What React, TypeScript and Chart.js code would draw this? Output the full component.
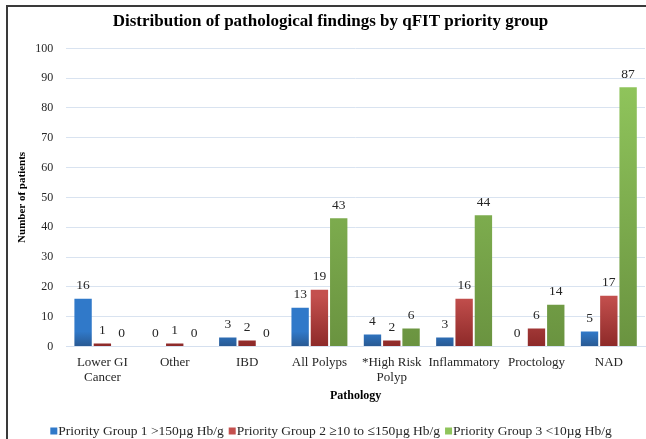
import React, { useEffect, useRef } from "react";
import { Chart, registerables } from "chart.js";

Chart.register(...registerables);

const categories: (string | string[])[] = [
  ["Lower GI", "Cancer"],
  "Other",
  "IBD",
  "All Polyps",
  ["*High Risk", "Polyp"],
  "Inflammatory",
  "Proctology",
  "NAD",
];
const group1 = [16, 0, 3, 13, 4, 3, 0, 5];
const group2 = [1, 1, 2, 19, 2, 16, 6, 17];
const group3 = [0, 0, 0, 43, 6, 44, 14, 87];
const seriesNames = [
  "Priority Group 1 >150µg Hb/g",
  "Priority Group 2 ≥10 to ≤150µg Hb/g",
  "Priority Group 3 <10µg Hb/g",
];
const yTicks = [0, 10, 20, 30, 40, 50, 60, 70, 80, 90, 100];

const topColors = ["#3079c9", "#c4504e", "#8fc45b"];
const bottomColors = ["#295a94", "#8e2a29", "#6a9340"];
const FONT = "'Liberation Serif', 'Times New Roman', serif";

const gradientPlugin = {
  id: "barGradient",
  beforeDatasetsDraw(chart: any) {
    const ctx = chart.ctx;
    chart.data.datasets.forEach((ds: any, i: number) => {
      const meta = chart.getDatasetMeta(i);
      meta.data.forEach((el: any) => {
        const top = Math.min(el.y, el.base);
        const bottom = Math.max(el.y, el.base);
        const g = ctx.createLinearGradient(0, top, 0, bottom + 0.01);
        g.addColorStop(0, topColors[i]);
        g.addColorStop(1, bottomColors[i]);
        if (el.options) el.options.backgroundColor = g;
      });
    });
  },
};

const labelsPlugin = {
  id: "valueLabels",
  afterDatasetsDraw(chart: any) {
    const ctx = chart.ctx;
    ctx.save();
    ctx.font = `13.5px ${FONT}`;
    ctx.fillStyle = "#262626";
    ctx.textAlign = "center";
    ctx.textBaseline = "middle";
    chart.data.datasets.forEach((ds: any, i: number) => {
      const meta = chart.getDatasetMeta(i);
      meta.data.forEach((el: any, j: number) => {
        ctx.fillText(String(ds.data[j]), el.x, el.y - 13);
      });
    });
    ctx.restore();
  },
};

const framePlugin = {
  id: "frame",
  beforeDraw(chart: any) {
    const ctx = chart.ctx;
    ctx.save();
    ctx.fillStyle = "#ffffff";
    ctx.fillRect(0, 0, chart.width, chart.height);
    ctx.strokeStyle = "#3a3a3a";
    ctx.lineWidth = 2;
    ctx.beginPath();
    ctx.moveTo(7, chart.height);
    ctx.lineTo(7, 6);
    ctx.lineTo(chart.width, 6);
    ctx.stroke();
    ctx.restore();
  },
};

const legendPlugin = {
  id: "customLegend",
  afterDraw(chart: any) {
    const ctx = chart.ctx;
    ctx.save();
    ctx.font = `13.5px ${FONT}`;
    ctx.textBaseline = "middle";
    const box = 7;
    const gapText = 1;
    const gapItem = 5;
    const widths = seriesNames.map((n) => box + gapText + ctx.measureText(n).width);
    const total = widths.reduce((a, b) => a + b, 0) + gapItem * (widths.length - 1);
    let x = 331 - total / 2;
    const y = 431;
    seriesNames.forEach((n, i) => {
      ctx.fillStyle = topColors[i];
      ctx.fillRect(x, y - box / 2, box, box);
      ctx.fillStyle = "#262626";
      ctx.fillText(n, x + box + gapText, y);
      x += widths[i] + gapItem;
    });
    ctx.restore();
  },
};

export default function App() {
  const ref = useRef<HTMLCanvasElement | null>(null);
  useEffect(() => {
    if (!ref.current) return;
    const chart = new Chart(ref.current, {
      type: "bar",
      data: {
        labels: categories,
        datasets: [
          { label: seriesNames[0], data: group1, backgroundColor: topColors[0] },
          { label: seriesNames[1], data: group2, backgroundColor: topColors[1] },
          { label: seriesNames[2], data: group3, backgroundColor: topColors[2] },
        ],
      },
      options: {
        responsive: false,
        animation: false,
        layout: { padding: { top: 9, left: 16, right: 1, bottom: 36 } },
        plugins: {
          legend: { display: false },
          tooltip: { enabled: false },
          title: {
            display: true,
            text: "Distribution of pathological findings by qFIT priority group",
            color: "#000000",
            font: { family: FONT, size: 17, weight: "bold" },
            padding: { top: 2, bottom: 17 },
          },
        },
        scales: {
          x: {
            grid: { display: false, drawTicks: false },
            border: { display: true, color: "#d5e0ef", width: 1 },
            ticks: {
              color: "#262626",
              font: { family: FONT, size: 13 },
              padding: 8,
              maxRotation: 0,
              autoSkip: false,
            },
            title: {
              display: true,
              text: "Pathology",
              color: "#000000",
              font: { family: FONT, size: 12, weight: "bold" },
              padding: { top: -5, bottom: 0 },
            },
          },
          y: {
            min: 0,
            max: 100,
            afterBuildTicks(scale: any) {
              scale.ticks = yTicks.map((v) => ({ value: v }));
            },
            grid: { color: "#d9e3f0", drawTicks: false, lineWidth: 1 },
            border: { display: false },
            ticks: {
              color: "#262626",
              font: { family: FONT, size: 12 },
              padding: 13,
            },
            title: {
              display: true,
              text: "Number of patients",
              color: "#000000",
              font: { family: FONT, size: 11, weight: "bold" },
              padding: { top: 0, bottom: -7 },
            },
          },
        },
      },
      plugins: [framePlugin, gradientPlugin, labelsPlugin, legendPlugin],
    });
    return () => chart.destroy();
  }, []);
  return (
    <div style={{ position: "absolute", left: 0, top: 0, width: 646, height: 439 }}>
      <canvas ref={ref} width={646} height={439} style={{ width: 646, height: 439, display: "block" }} />
    </div>
  );
}
